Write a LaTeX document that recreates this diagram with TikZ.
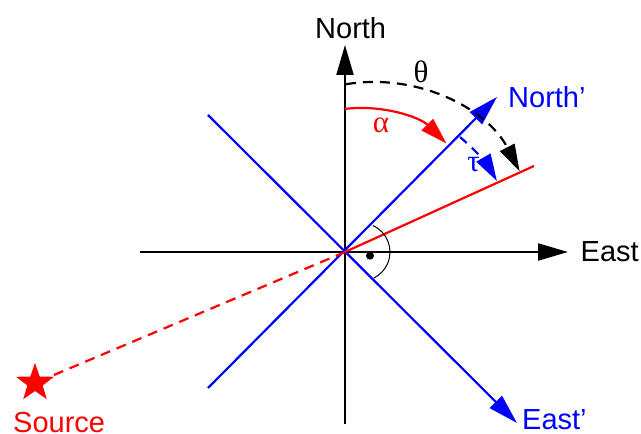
\documentclass[tikz,border=0pt]{standalone}
\usepackage{fontspec}
\setmainfont{Liberation Sans}
\newfontfamily\greekfont{Liberation Serif}
\usetikzlibrary{arrows.meta,shapes.geometric}
\definecolor{myblue}{RGB}{0,0,255}
\definecolor{myred}{RGB}{255,0,0}
\begin{document}
\begin{tikzpicture}[x=1pt,y=1pt,
  bigtip/.style={-{Triangle[length=30pt,width=17pt]}},
  arctip/.style={-{Triangle[length=27pt,width=16pt]}},
  axisline/.style={line width=2.2pt, black, bigtip},
  blueline/.style={line width=2.2pt, myblue},
  redline/.style={line width=2.2pt, myred},
  dashline/.style={line width=2.2pt, dash pattern=on 10pt off 7pt},
  lbl/.style={inner sep=0pt, font=\fontsize{29}{34}\selectfont},
  glbl/.style={inner sep=0pt, font=\greekfont\fontsize{31}{36}\selectfont},
]
\useasboundingbox (0,0) rectangle (641,434);

% key points
\coordinate (O) at (345,182);
\coordinate (Sbot) at (345,10);
\coordinate (Ntip) at (345,389);
\coordinate (Wend) at (140,182);
\coordinate (Etip) at (568,182);
\coordinate (NPstart) at (208,46);
\coordinate (NPtip) at (497,337);
\coordinate (EPstart) at (208,319);
\coordinate (EPtip) at (517,11);
\coordinate (Rend) at (534,268);

% axes
\draw[axisline] (Sbot) -- (Ntip);
\draw[axisline] (Wend) -- (Etip);

% rotated axes
\draw[blueline, bigtip] (NPstart) -- (NPtip);
\draw[blueline, bigtip] (EPstart) -- (EPtip);

% source direction
\coordinate (src) at (35,51);
\draw[redline, dashline] (O) -- (src);
\draw[redline] (O) -- (Rend);
\node[star, star points=5, star point ratio=2.5, fill=myred, minimum size=40pt, inner sep=0pt] (star) at (src) {};

% right angle marker
\coordinate (raS) at ({361+29*cos(66)},{182+29*sin(66)});
\draw[line width=1pt] (raS) arc[start angle=66, end angle=-64, radius=29];
\fill (370,178.3) circle[radius=4];

% theta arc
\coordinate (thS) at ({373+165*cos(99.4)},{187+165*sin(99.4)});
\draw[dashline, black, arctip] (thS) arc[start angle=99.4, end angle=27.3, radius=165];

% alpha arc
\coordinate (alS) at ({360+123*cos(97)},{203+123*sin(97)});
\draw[redline, arctip] (alS) arc[start angle=97, end angle=45.3, radius=123];

% tau arc
\coordinate (taS) at ({354.6+164.3*cos(50.1)},{170.9+164.3*sin(50.1)});
\draw[line width=2.2pt, myblue, dash pattern=on 9pt off 7pt, arctip] (taS) arc[start angle=50.1, end angle=30.0, radius=164.3];

% labels
\node[lbl, anchor=base west] (north) at (315,395) {North};
\node[lbl, anchor=base west, text=myblue] (northp) at (508,326) {North’};
\node[lbl, anchor=base west] (east) at (580.5,172.3) {East};
\node[lbl, anchor=base west, text=myblue] (eastp) at (522,4) {East’};
\node[lbl, anchor=base west, text=myred] (source) at (13,1) {Source};
\node[glbl] (theta) at (421,362) {θ};
\node[glbl, text=myred] (alpha) at (381,309) {α};
\node[glbl, text=myblue] (tau) at (473.5,269) {τ};
\end{tikzpicture}
\end{document}
